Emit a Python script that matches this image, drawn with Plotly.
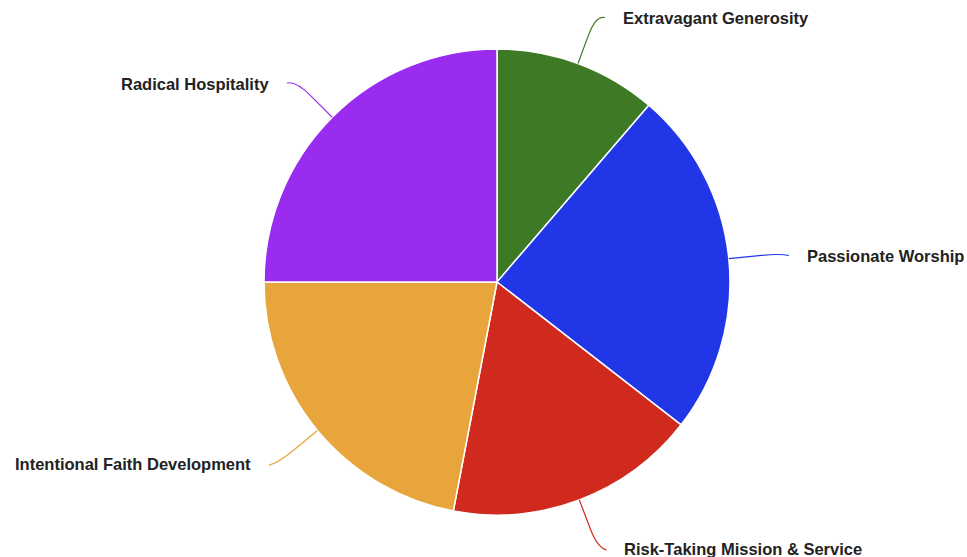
import math
import plotly.graph_objects as go

labels = ["Extravagant Generosity", "Passionate Worship", "Risk-Taking Mission & Service",
          "Intentional Faith Development", "Radical Hospitality"]
values = [11.3, 24.2, 17.5, 22.0, 25.0]
colors = ["#3e7a26", "#2136e6", "#d02a1f", "#e8a53c", "#9a2cf0"]

W, H = 967, 557
CX, CY, R = 497, 282, 233  # pie centre/radius in px (layout)

dom_x = [(CX - R) / W, (CX + R) / W]
dom_y = [1 - (CY + R) / H, 1 - (CY - R) / H]

fig = go.Figure(go.Pie(
    labels=labels, values=values, sort=False, direction="clockwise", rotation=0,
    marker=dict(colors=colors, line=dict(color="white", width=1.5)),
    textinfo="none", hoverinfo="label+percent", domain=dict(x=dom_x, y=dom_y),
    showlegend=False,
))

def px2paper(x, y):
    return x / W, 1 - y / H

total = sum(values)
cum = 0
shapes, annotations = [], []
for lab, v, c in zip(labels, values, colors):
    mid = (cum + v / 2) / total * 2 * math.pi
    cum += v
    sx, sy = math.sin(mid), -math.cos(mid)
    p0 = (CX + R * sx, CY + R * sy)
    p1 = (CX + R * 1.13 * sx, CY + R * 1.13 * sy)
    el = (CX + R * 1.22 * sx, CY + R * 1.22 * sy)
    side = 1 if sx >= 0 else -1
    p2 = (el[0] + side * 9, el[1] + 2)
    pts = [px2paper(*p) for p in (p0, p1, el, p2)]
    path = "M {} {} L {} {} Q {} {} {} {}".format(
        pts[0][0], pts[0][1], pts[1][0], pts[1][1], pts[2][0], pts[2][1], pts[3][0], pts[3][1])
    shapes.append(dict(type="path", path=path, xref="paper", yref="paper",
                       line=dict(color=c, width=1.2)))
    tx, ty = px2paper(p2[0] + side * 16, p2[1] + (1 if sy < 0 else -1))
    annotations.append(dict(x=tx, y=ty, xref="paper", yref="paper", text="<b>" + lab + "</b>",
                            showarrow=False, xanchor="left" if side > 0 else "right",
                            yanchor="middle",
                            font=dict(family="Liberation Sans, Arial, sans-serif", size=16.5, color="#222")))

fig.update_layout(width=W, height=H, margin=dict(l=0, r=0, t=0, b=0),
                  paper_bgcolor="white", plot_bgcolor="white",
                  shapes=shapes, annotations=annotations)
fig.write_html("out.html", config={"displayModeBar": False},
               post_script="document.body.style.margin='0';document.body.style.overflow='hidden';")
